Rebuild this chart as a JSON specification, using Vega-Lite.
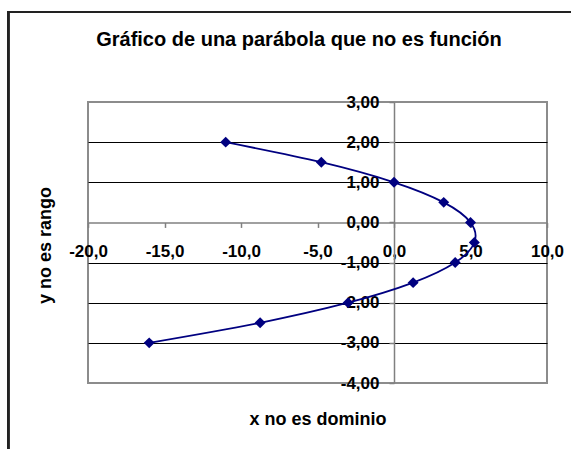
{
  "$schema": "https://vega.github.io/schema/vega-lite/v6.json",
  "width": 459,
  "height": 281,
  "autosize": {"type": "none"},
  "padding": {"left": 88, "top": 102, "right": 24, "bottom": 66},
  "background": "white",
  "config": {
    "view": {"stroke": "#8c8c8c", "strokeWidth": 2, "fill": "white"},
    "font": "Liberation Sans"
  },
  "title": {
    "text": "Gráfico de una parábola que no es función",
    "font": "Liberation Sans",
    "fontSize": 20,
    "fontWeight": "bold",
    "color": "black",
    "anchor": "middle",
    "frame": "group",
    "baseline": "alphabetic",
    "offset": 0,
    "dy": 55.4,
    "dx": -18.5
  },
  "data": {
    "values": [
      {"x": -11, "y": 2},
      {"x": -4.75, "y": 1.5},
      {"x": 0, "y": 1},
      {"x": 3.25, "y": 0.5},
      {"x": 5, "y": 0},
      {"x": 5.25, "y": -0.5},
      {"x": 4, "y": -1},
      {"x": 1.25, "y": -1.5},
      {"x": -3, "y": -2},
      {"x": -8.75, "y": -2.5},
      {"x": -16, "y": -3}
    ]
  },
  "encoding": {
    "x": {
      "field": "x",
      "type": "quantitative",
      "scale": {"domain": [-20, 10], "nice": false, "zero": false},
      "axis": {
        "title": "x no es dominio",
        "orient": "bottom",
        "offset": -160.57,
        "values": [-20, -15, -10, -5, 0, 5, 10],
        "grid": false,
        "domainColor": "#808080",
        "domainWidth": 1.5,
        "tickColor": "#808080",
        "tickWidth": 1.5,
        "tickSize": 5,
        "labelFont": "Liberation Sans",
        "labelFontSize": 17,
        "labelFontWeight": "bold",
        "labelColor": "black",
        "labelBaseline": "alphabetic",
        "labelPadding": 28.6,
        "labelFlush": false,
        "labelOverlap": false,
        "labelExpr": "(datum.value < 0 ? '-' : '') + replace(format(abs(datum.value), '.1f'), '.', ',')",
        "titleFont": "Liberation Sans",
        "titleFontSize": 18,
        "titleFontWeight": "bold",
        "titleColor": "black",
        "titleBaseline": "alphabetic",
        "titleY": 201.6
      }
    },
    "y": {
      "field": "y",
      "type": "quantitative",
      "scale": {"domain": [-4, 3], "nice": false, "zero": false},
      "axis": {
        "title": "y no es rango",
        "orient": "left",
        "offset": -306,
        "values": [-4, -3, -2, -1, 0, 1, 2, 3],
        "grid": true,
        "gridColor": "black",
        "gridWidth": 1,
        "gridOpacity": {"condition": {"test": "datum.value == 3 || datum.value == -4 || datum.value == 0", "value": 0}, "value": 1},
        "domainColor": "#808080",
        "domainWidth": 1.5,
        "tickColor": "#808080",
        "tickWidth": 1.5,
        "tickSize": 5,
        "labelFont": "Liberation Sans",
        "labelFontSize": 17,
        "labelFontWeight": "bold",
        "labelColor": "black",
        "labelPadding": 10,
        "labelFlush": false,
        "labelOverlap": false,
        "labelExpr": "(datum.value < 0 ? '-' : '') + replace(format(abs(datum.value), '.2f'), '.', ',')",
        "titleFont": "Liberation Sans",
        "titleFontSize": 18,
        "titleFontWeight": "bold",
        "titleColor": "black",
        "titleAngle": -90,
        "titleBaseline": "middle",
        "titleX": -349,
        "titleY": 143
      }
    }
  },
  "layer": [
    {
      "mark": {"type": "line", "interpolate": "cardinal", "color": "#000080", "strokeWidth": 1.8},
      "encoding": {"order": {"field": "y", "sort": "descending"}}
    },
    {
      "mark": {"type": "point", "shape": "diamond", "filled": true, "opacity": 1, "color": "#000080", "size": 120}
    },
    {
      "mark": {"type": "rect", "fill": null, "fillOpacity": 0, "stroke": "#222222", "strokeWidth": 1.5, "clip": false},
      "encoding": {
        "x": {"datum": -25.2, "type": "quantitative"},
        "x2": {"datum": 12},
        "y": {"datum": 5.25, "type": "quantitative"},
        "y2": {"datum": -6}
      }
    }
  ]
}
